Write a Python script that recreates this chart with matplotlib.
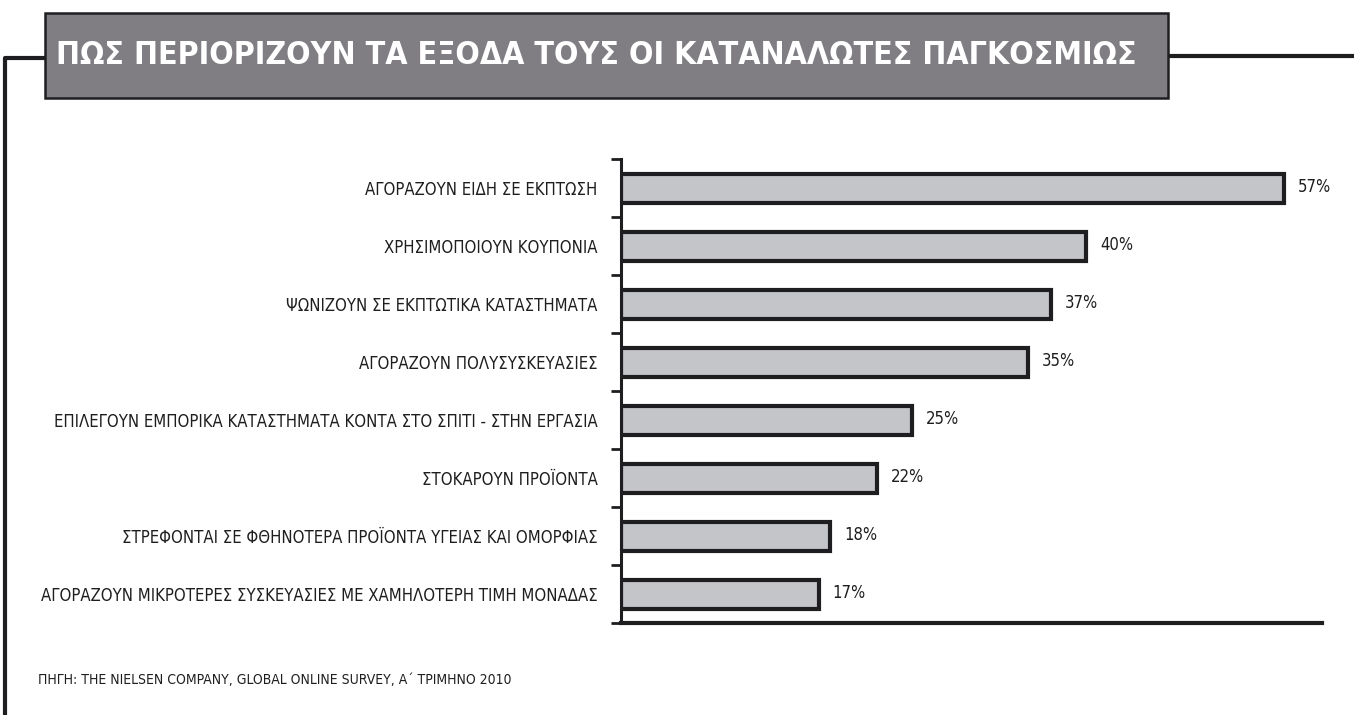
import matplotlib
matplotlib.use("Agg")
import matplotlib.pyplot as plt
from matplotlib.patches import Rectangle
from matplotlib.lines import Line2D

plt.rcParams["font.family"] = ["DejaVu Sans", "sans-serif"]
plt.rcParams["font.stretch"] = "condensed"

# Consumer cost-cutting measures, share of respondents (%)
categories = [
    "ΑΓΟΡΑΖΟΥΝ ΕΙΔΗ ΣΕ ΕΚΠΤΩΣΗ",
    "ΧΡΗΣΙΜΟΠΟΙΟΥΝ ΚΟΥΠΟΝΙΑ",
    "ΨΩΝΙΖΟΥΝ ΣΕ ΕΚΠΤΩΤΙΚΑ ΚΑΤΑΣΤΗΜΑΤΑ",
    "ΑΓΟΡΑΖΟΥΝ ΠΟΛΥΣΥΣΚΕΥΑΣΙΕΣ",
    "ΕΠΙΛΕΓΟΥΝ ΕΜΠΟΡΙΚΑ ΚΑΤΑΣΤΗΜΑΤΑ ΚΟΝΤΑ ΣΤΟ ΣΠΙΤΙ - ΣΤΗΝ ΕΡΓΑΣΙΑ",
    "ΣΤΟΚΑΡΟΥΝ ΠΡΟΪΟΝΤΑ",
    "ΣΤΡΕΦΟΝΤΑΙ ΣΕ ΦΘΗΝΟΤΕΡΑ ΠΡΟΪΟΝΤΑ ΥΓΕΙΑΣ ΚΑΙ ΟΜΟΡΦΙΑΣ",
    "ΑΓΟΡΑΖΟΥΝ ΜΙΚΡΟΤΕΡΕΣ ΣΥΣΚΕΥΑΣΙΕΣ ΜΕ ΧΑΜΗΛΟΤΕΡΗ ΤΙΜΗ ΜΟΝΑΔΑΣ",
]
values = [57, 40, 37, 35, 25, 22, 18, 17]

title = "ΠΩΣ ΠΕΡΙΟΡΙΖΟΥΝ ΤΑ ΕΞΟΔΑ ΤΟΥΣ ΟΙ ΚΑΤΑΝΑΛΩΤΕΣ ΠΑΓΚΟΣΜΙΩΣ"
source = "ΠΗΓΗ: THE NIELSEN COMPANY, GLOBAL ONLINE SURVEY, Α΄ ΤΡΙΜΗΝΟ 2010"

DARK = "#1e1e20"
BAR_FILL = "#c4c5c9"
TITLE_FILL = "#807e83"

W, H = 1354, 715
fig = plt.figure(figsize=(W / 100, H / 100), dpi=100)


def fx(px):
    return px / W


def fy(py):
    return 1 - py / H


ax = fig.add_axes([fx(621), fy(623), fx(1322) - fx(621), fy(159) - fy(623)])

pos = list(range(len(categories)))
ax.barh(pos, values, height=0.5, color=BAR_FILL, edgecolor=DARK, linewidth=3)
ax.set_ylim(len(categories) - 0.5, -0.5)
ax.set_xlim(0, 60.3)

for p, v in zip(pos, values):
    ax.annotate(f"{v}%", xy=(v, p), xytext=(10, 1), textcoords="offset points",
                ha="left", va="center", fontsize=12, color=DARK)

# boundary ticks between the categories, labels on the centres
ax.set_yticks([p - 0.5 for p in pos] + [len(pos) - 0.5])
ax.set_yticklabels([])
ax.tick_params(axis="y", which="major", length=7, width=2, color=DARK)
ax.set_yticks(pos, minor=True)
ax.set_yticklabels(categories, minor=True)
ax.tick_params(axis="y", which="minor", length=0, pad=17, labelsize=12,
               labelcolor=DARK)
ax.set_xticks([])

for side in ("top", "right"):
    ax.spines[side].set_visible(False)
ax.spines["left"].set_linewidth(2.2)
ax.spines["left"].set_color(DARK)
ax.spines["bottom"].set_linewidth(3)
ax.spines["bottom"].set_color(DARK)

# title banner and frame lines
fig.patches.append(Rectangle((fx(45), fy(98)), fx(1168) - fx(45), fy(13) - fy(98),
                             transform=fig.transFigure, facecolor=TITLE_FILL,
                             edgecolor=DARK, linewidth=1.8, zorder=2))
fig.text(fx(596), fy(55), title, ha="center", va="center", color="white",
         fontsize=23, fontweight="bold", zorder=3)
fig.lines.append(Line2D([fx(5), fx(5), fx(45)], [fy(H), fy(58), fy(58)],
                        transform=fig.transFigure, color=DARK, linewidth=3,
                        zorder=1))
fig.lines.append(Line2D([fx(1168), fx(W)], [fy(56), fy(56)],
                        transform=fig.transFigure, color=DARK, linewidth=3,
                        zorder=1))

fig.text(fx(38), fy(680), source, ha="left", va="center", fontsize=10, color=DARK)

fig.savefig("out.png", dpi=100)
